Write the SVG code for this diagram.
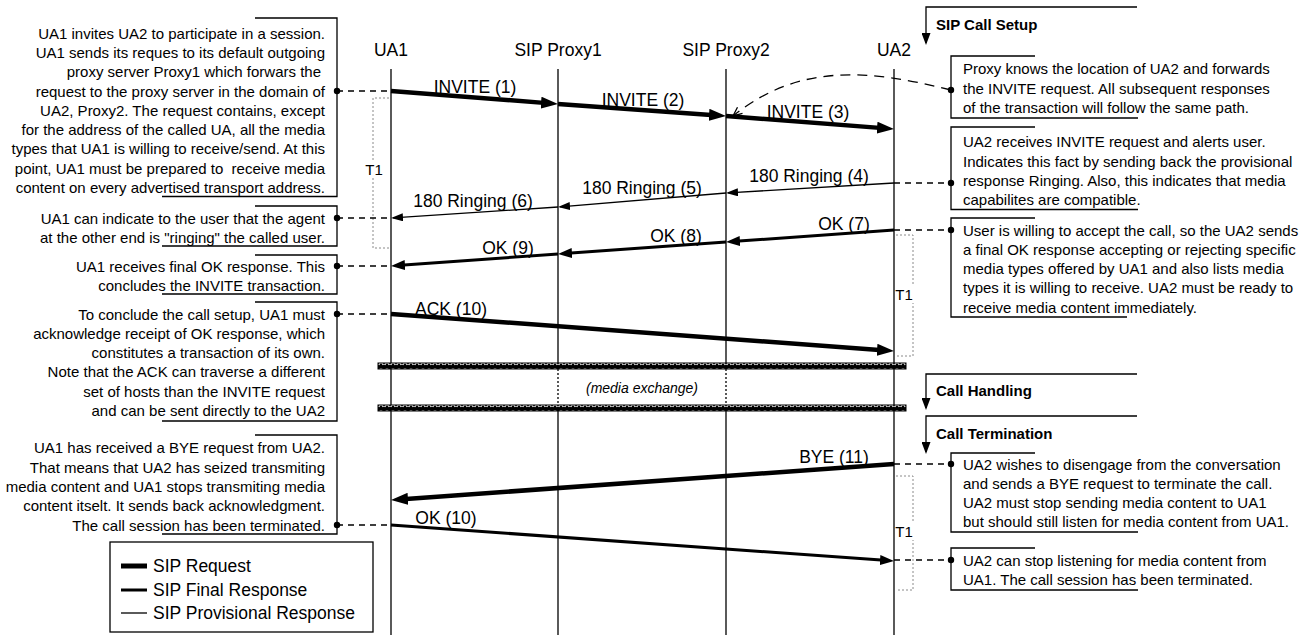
<svg xmlns="http://www.w3.org/2000/svg" width="1309" height="635" viewBox="0 0 1309 635">
<defs>
<style>
text{font-family:"Liberation Sans",Arial,Helvetica,sans-serif;fill:#000}
.hd{font-size:17.5px;text-anchor:middle}
.ml{font-size:17.5px;text-anchor:middle}
.lg{font-size:17.5px}
.an{font-size:15px}
.al{font-size:15px;text-anchor:end}
.sec{font-size:15px;font-weight:bold}
.t1{font-size:15px;text-anchor:middle}
.mx{font-size:14px;font-style:italic;text-anchor:middle}
.life{stroke:#000;stroke-width:1.3;fill:none}
.dot{stroke:#000;stroke-width:1.3;stroke-dasharray:2 2;fill:none}
.br{stroke:#000;stroke-width:1.3;fill:none}
.ld{stroke:#000;stroke-width:1.3;stroke-dasharray:6 5;fill:none}
.req{stroke:#000;stroke-width:4.5;fill:none;marker-end:url(#mReq)}
.fin{stroke:#000;stroke-width:3;fill:none;marker-end:url(#mFin)}
.prov{stroke:#000;stroke-width:1.3;fill:none;marker-end:url(#mProv)}
.tb{stroke:#8a8a8a;stroke-width:1;stroke-dasharray:2 2;fill:none}
.sa{stroke:#000;stroke-width:1.3;fill:none;marker-end:url(#mSec)}
</style>
<marker id="mReq" markerUnits="userSpaceOnUse" markerWidth="18" markerHeight="12" viewBox="0 0 18 12" refX="9" refY="6" orient="auto"><path d="M0,0L17,6L0,12z" fill="#000"/></marker>
<marker id="mFin" markerUnits="userSpaceOnUse" markerWidth="14" markerHeight="10" viewBox="0 0 14 10" refX="8" refY="5" orient="auto"><path d="M0,0L14,5L0,10z" fill="#000"/></marker>
<marker id="mProv" markerUnits="userSpaceOnUse" markerWidth="12" markerHeight="8" viewBox="0 0 12 8" refX="10" refY="4" orient="auto"><path d="M0,0L12,4L0,8z" fill="#000"/></marker>
<marker id="mSec" markerUnits="userSpaceOnUse" markerWidth="12" markerHeight="9" viewBox="0 0 12 9" refX="10" refY="4.5" orient="auto"><path d="M0,0L12,4.5L0,9z" fill="#000"/></marker>
<marker id="mOpen" markerUnits="userSpaceOnUse" markerWidth="12" markerHeight="10" viewBox="0 0 12 10" refX="10" refY="5" orient="auto"><path d="M1,1L10,5L1,9" fill="none" stroke="#000" stroke-width="1.3"/></marker>
<pattern id="wave" patternUnits="userSpaceOnUse" x="378" y="0" width="6" height="6">
<rect width="6" height="6" fill="#000"/>
<path d="M0.6,4.9Q3,0.9 5.4,4.9" fill="none" stroke="#fff" stroke-width="1.3"/>
</pattern>
</defs>
<rect width="1309" height="635" fill="#fff"/>

<g id="ua1">
<text class="hd" x="391" y="56">UA1</text>
<line class="life" x1="391" y1="69" x2="391" y2="635"/>
</g>
<g id="proxy1">
<text class="hd" x="558" y="56">SIP Proxy1</text>
<line class="life" x1="558" y1="69" x2="558" y2="363"/>
<line class="dot" x1="558" y1="369" x2="558" y2="405"/>
<line class="life" x1="558" y1="411" x2="558" y2="635"/>
</g>
<g id="proxy2">
<text class="hd" x="726" y="56">SIP Proxy2</text>
<line class="life" x1="726" y1="69" x2="726" y2="363"/>
<line class="dot" x1="726" y1="369" x2="726" y2="405"/>
<line class="life" x1="726" y1="411" x2="726" y2="635"/>
</g>
<g id="ua2">
<text class="hd" x="894" y="56">UA2</text>
<line class="life" x1="894" y1="69" x2="894" y2="635"/>
</g>

<g id="media">
<rect x="378" y="363" width="528" height="6" fill="url(#wave)" stroke="#000" stroke-width="1"/>
<rect x="378" y="405" width="528" height="6" fill="url(#wave)" stroke="#000" stroke-width="1"/>
<text class="mx" x="642" y="393">(media exchange)</text>
</g>

<g id="timers">
<path class="tb" d="M389,98H373V248H389"/>
<rect x="366" y="161" width="16" height="17" fill="#fff"/>
<text class="t1" x="374" y="175">T1</text>
<path class="tb" d="M896,235H913V356H896"/>
<rect x="896" y="286" width="18" height="17" fill="#fff"/>
<text class="t1" x="904" y="300">T1</text>
<path class="tb" d="M896,476H913V590H896"/>
<rect x="896" y="523" width="18" height="17" fill="#fff"/>
<text class="t1" x="904" y="537">T1</text>
</g>

<g id="connectors">
<line class="req" x1="391" y1="91" x2="550.02" y2="103.38"/>
<line class="req" x1="558" y1="104" x2="718.02" y2="115.43"/>
<line class="req" x1="726" y1="116" x2="886.02" y2="128.38"/>
<line class="prov" x1="894" y1="183" x2="728" y2="192.88"/>
<line class="prov" x1="726" y1="193" x2="560" y2="206.83"/>
<line class="prov" x1="558" y1="207" x2="393" y2="217.87"/>
<line class="fin" x1="894" y1="230" x2="731.98" y2="241.57"/>
<line class="fin" x1="726" y1="242" x2="563.98" y2="253.57"/>
<line class="fin" x1="558" y1="254" x2="396.98" y2="265.57"/>
<line class="req" x1="391" y1="314" x2="886.02" y2="350.41"/>
<line class="req" x1="894" y1="464" x2="398.98" y2="499.43"/>
<line class="fin" x1="391" y1="525" x2="888.02" y2="560.57"/>
<text class="ml" x="475" y="93">INVITE (1)</text>
<text class="ml" x="643" y="106">INVITE (2)</text>
<text class="ml" x="808" y="118">INVITE (3)</text>
<text class="ml" x="809" y="182">180 Ringing (4)</text>
<text class="ml" x="642" y="194">180 Ringing (5)</text>
<text class="ml" x="473" y="207">180 Ringing (6)</text>
<text class="ml" x="844" y="230">OK (7)</text>
<text class="ml" x="676" y="242">OK (8)</text>
<text class="ml" x="508" y="254">OK (9)</text>
<text class="ml" x="451" y="315">ACK (10)</text>
<text class="ml" x="834" y="463">BYE (11)</text>
<text class="ml" x="446" y="524">OK (10)</text>
<line class="ld" x1="337" y1="91" x2="391" y2="91"/>
<line class="ld" x1="337" y1="218" x2="391" y2="218"/>
<line class="ld" x1="337" y1="266" x2="391" y2="266"/>
<line class="ld" x1="337" y1="314" x2="391" y2="314"/>
<line class="ld" x1="337" y1="525" x2="391" y2="525"/>
<path d="M951,90C870,70 800,62 733,116" fill="none" stroke="#000" stroke-width="1.3" stroke-dasharray="10 7" marker-end="url(#mOpen)"/>
<line class="ld" x1="894" y1="183" x2="951" y2="183"/>
<line class="ld" x1="894" y1="230" x2="951" y2="230"/>
<line class="ld" x1="894" y1="464" x2="951" y2="464"/>
<line class="ld" x1="894" y1="560" x2="951" y2="560"/>
</g>

<g id="note-invite">
<path class="br" d="M255,18H337V196.5H162"/>
<circle cx="337" cy="91" r="3.2"/>
<text class="al" x="325" y="38.6">UA1 invites UA2 to participate in a session.</text>
<text class="al" x="325" y="57.9">UA1 sends its reques to its default outgoing</text>
<text class="al" x="321" y="77.2">proxy server Proxy1 which forwars the</text>
<text class="al" x="325" y="96.5">request to the proxy server in the domain of</text>
<text class="al" x="325" y="115.8">UA2, Proxy2. The request contains, except</text>
<text class="al" x="325" y="135.1">for the address of the called UA, all the media</text>
<text class="al" x="325" y="154.4">types that UA1 is willing to receive/send. At this</text>
<text class="al" x="325" y="173.7" xml:space="preserve">point, UA1 must be prepared to  receive media</text>
<text class="al" x="325" y="193">content on every advertised transport address.</text>
</g>
<g id="note-ringing">
<path class="br" d="M255,206H337V246H162"/>
<circle cx="337" cy="218" r="3.2"/>
<text class="al" x="325" y="223.5">UA1 can indicate to the user that the agent</text>
<text class="al" x="325" y="242.8">at the other end is "ringing" the called user.</text>
</g>
<g id="note-ok">
<path class="br" d="M255,255H337V294H162"/>
<circle cx="337" cy="266" r="3.2"/>
<text class="al" x="325" y="271.5">UA1 receives final OK response. This</text>
<text class="al" x="325" y="290.8">concludes the INVITE transaction.</text>
</g>
<g id="note-ack">
<path class="br" d="M255,302H337V421H162"/>
<circle cx="337" cy="314" r="3.2"/>
<text class="al" x="325" y="319.5">To conclude the call setup, UA1 must</text>
<text class="al" x="325" y="338.8">acknowledge receipt of OK response, which</text>
<text class="al" x="325" y="358.1">constitutes a transaction of its own.</text>
<text class="al" x="325" y="377.4">Note that the ACK can traverse a different</text>
<text class="al" x="325" y="396.7">set of hosts than the INVITE request</text>
<text class="al" x="325" y="416">and can be sent directly to the UA2</text>
</g>
<g id="note-bye-ua1">
<path class="br" d="M255,435H337V534H162"/>
<circle cx="337" cy="525" r="3.2"/>
<text class="al" x="325" y="453.3">UA1 has received a BYE request from UA2.</text>
<text class="al" x="325" y="472.6">That means that UA2 has seized transmiting</text>
<text class="al" x="325" y="491.9">media content and UA1 stops transmiting media</text>
<text class="al" x="325" y="511.2">content itselt. It sends back acknowledgment.</text>
<text class="al" x="325" y="530.5">The call session has been terminated.</text>
</g>

<g id="sec-setup">
<path class="sa" d="M1137,7H926V43"/>
<text class="sec" x="936" y="29.5">SIP Call Setup</text>
</g>
<g id="sec-handling">
<path class="sa" d="M1137,374H926V408"/>
<text class="sec" x="936" y="395.5">Call Handling</text>
</g>
<g id="sec-termination">
<path class="sa" d="M1137,416H926V452"/>
<text class="sec" x="936" y="438.5">Call Termination</text>
</g>

<g id="note-proxy">
<path class="br" d="M1035,56H951V118H1138"/>
<circle cx="951" cy="90" r="3.2"/>
<text class="an" x="963" y="74.2">Proxy knows the location of UA2 and forwards</text>
<text class="an" x="963" y="93.5">the INVITE request. All subsequent responses</text>
<text class="an" x="963" y="112.8">of the transaction will follow the same path.</text>
</g>
<g id="note-alert">
<path class="br" d="M1035,127H951V209.5H1138"/>
<circle cx="951" cy="183" r="3.2"/>
<text class="an" x="963" y="147.3">UA2 receives INVITE request and alerts user.</text>
<text class="an" x="963" y="166.6">Indicates this fact by sending back the provisional</text>
<text class="an" x="963" y="185.9">response Ringing. Also, this indicates that media</text>
<text class="an" x="963" y="205.2">capabilites are compatible.</text>
</g>
<g id="note-accept">
<path class="br" d="M1035,218H951V317H1127"/>
<circle cx="951" cy="230" r="3.2"/>
<text class="an" x="963" y="235.5">User is willing to accept the call, so the UA2 sends</text>
<text class="an" x="963" y="254.8">a final OK response accepting or rejecting specific</text>
<text class="an" x="963" y="274.1">media types offered by UA1 and also lists media</text>
<text class="an" x="963" y="293.4">types it is willing to receive. UA2 must be ready to</text>
<text class="an" x="963" y="312.7">receive media content immediately.</text>
</g>
<g id="note-bye-ua2">
<path class="br" d="M1035,453H951V532H1138"/>
<circle cx="951" cy="464" r="3.2"/>
<text class="an" x="963" y="469.5">UA2 wishes to disengage from the conversation</text>
<text class="an" x="963" y="488.8">and sends a BYE request to terminate the call.</text>
<text class="an" x="963" y="508.1">UA2 must stop sending media content to UA1</text>
<text class="an" x="963" y="527.4">but should still listen for media content from UA1.</text>
</g>
<g id="note-end">
<path class="br" d="M1035,548H951V590H1138"/>
<circle cx="951" cy="560" r="3.2"/>
<text class="an" x="963" y="565.5">UA2 can stop listening for media content from</text>
<text class="an" x="963" y="584.8">UA1. The call session has been terminated.</text>
</g>

<g id="legend">
<rect x="110" y="542" width="263" height="90" fill="#fff" stroke="#000" stroke-width="1.3"/>
<line x1="121" y1="566" x2="147" y2="566" stroke="#000" stroke-width="5"/>
<line x1="121" y1="590" x2="147" y2="590" stroke="#000" stroke-width="3"/>
<line x1="121" y1="613" x2="147" y2="613" stroke="#000" stroke-width="1.3"/>
<text class="lg" x="153" y="572">SIP Request</text>
<text class="lg" x="153" y="596">SIP Final Response</text>
<text class="lg" x="153" y="619">SIP Provisional Response</text>
</g>
</svg>
